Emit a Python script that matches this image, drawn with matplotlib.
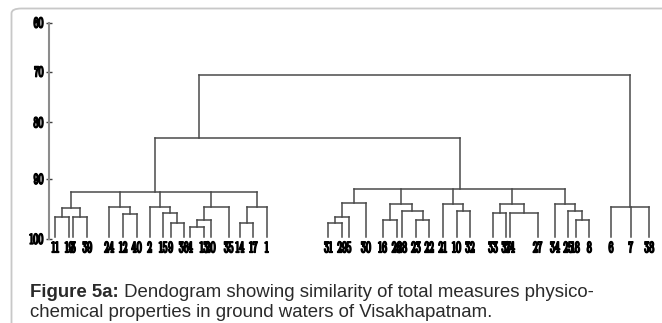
import numpy as np
import matplotlib
matplotlib.use('Agg')
import matplotlib.pyplot as plt
from matplotlib.patches import FancyBboxPatch
import matplotlib.patheffects as pe

# ---------------- data ----------------
leaf_labels = ['11', '19', '3', '39', '24', '12', '40', '2', '15', '9', '36', '4', '13', '20',
               '35', '14', '17', '1',
               '31', '29', '5', '30', '16', '26', '28', '23', '22', '21', '10', '32', '33', '37',
               '24', '27', '34', '25', '18', '8',
               '6', '7', '38']
leaf_pos = [55.3, 69.3, 73.3, 87.3, 109.3, 123.3, 136.7, 149.7, 163.3, 170.7, 183.7, 190.3,
            204.0, 210.7, 228.7, 240.0, 253.3, 266.7,
            328.3, 342.3, 349.0, 366.0, 382.7, 396.7, 402.3, 416.0, 429.3, 442.7, 456.7, 470.0,
            493.0, 506.0, 510.0, 537.5, 555.0, 568.3, 575.5, 589.3,
            611.0, 630.7, 649.3]

merge_names = ['A1', 'A2', 'A3', 'B1', 'B2', 'C1', 'C2', 'C3', 'D1', 'D2', 'D3', 'E1', 'E2', 'L',
               'F1', 'F2', 'F3', 'G1', 'G2', 'G3', 'G4', 'H1', 'H2', 'I1', 'I2', 'I3',
               'J1', 'J2', 'J3', 'M', 'R', 'LM', 'TOP']
merge_children = [[0, 1], [2, 3], ['A1', 'A2'], [5, 6], [4, 'B1'], [9, 10], [8, 'C1'], [7, 'C2'],
                  [11, 12], ['D1', 13], ['D2', 14], [15, 16], ['E1', 17],
                  ['A3', 'B2', 'C3', 'D3', 'E2'],
                  [18, 19], ['F1', 20], ['F2', 21], [22, 23], [25, 26], [24, 'G2'], ['G1', 'G3'],
                  [28, 29], [27, 'H1'], [30, 31], [32, 33], ['I1', 'I2'],
                  [36, 37], [35, 'J1'], [34, 'J2'],
                  ['F3', 'G4', 'H2', 'I3', 'J3'],
                  [38, 39, 40], ['L', 'M'], ['LM', 'R']]
merge_height = [96.3, 96.3, 94.8, 95.8, 94.7, 97.4, 95.7, 94.7, 97.95, 96.9, 94.7, 97.4, 94.7,
                92.1,
                97.4, 96.4, 94.05, 96.8, 96.8, 95.3, 94.2, 95.3, 94.2, 95.7, 95.7, 94.2,
                96.9, 95.3, 94.2, 91.6, 94.6, 82.7, 70.65]
# where the stem of a cluster rises along its bar (0.5 = middle)
stem_frac = {'D3': 0.27, 'L': 0.45, 'LM': 0.145}

y_ticks = [60, 70, 80, 90, 100]
# ---------------- axis warp (the printed axis is not evenly spaced) ----------------
axis_knots = np.array([0.0, 49.0, 99.8, 156.3, 216.3])
tick_arr = np.array(y_ticks, dtype=float)


def _interp(x, xp, fp):
    x = np.asarray(x, dtype=float)
    y = np.interp(x, xp, fp)
    lo = x < xp[0]
    hi = x > xp[-1]
    s0 = (fp[1] - fp[0]) / (xp[1] - xp[0])
    s1 = (fp[-1] - fp[-2]) / (xp[-1] - xp[-2])
    y = np.where(lo, fp[0] + (x - xp[0]) * s0, y)
    y = np.where(hi, fp[-1] + (x - xp[-1]) * s1, y)
    return y


def fwd(v):
    return _interp(v, tick_arr, axis_knots)


def inv(p):
    return _interp(p, axis_knots, tick_arr)


W, H = 662, 323
fig = plt.figure(figsize=(W / 100, H / 100), dpi=100)
fig.patch.set_facecolor('white')

# outer frame
frame = FancyBboxPatch((11.5 / W, -0.2), 1.2, 1.2 - 8.5 / H,
                       boxstyle='round,pad=0,rounding_size=0.015',
                       transform=fig.transFigure, facecolor='none',
                       edgecolor='#c8c8c8', linewidth=1.3, zorder=0)
fig.patches.append(frame)

ax = fig.add_axes([49 / W, 1 - 239 / H, (W - 49) / W, (239 - 22.7) / H])
ax.set_facecolor('none')
ax.set_yscale('function', functions=(fwd, inv))
ax.set_ylim(100, 60)
ax.set_xlim(49, W)

line_col = '#4a4a4a'
lw = 1.1
leaf_base = 99.6

xpos = {i: p for i, p in enumerate(leaf_pos)}
ypos = {i: leaf_base for i in range(len(leaf_pos))}
for name, ch, h in zip(merge_names, merge_children, merge_height):
    xs = [xpos[c] for c in ch]
    x0, x1 = min(xs), max(xs)
    ax.plot([x0, x1], [h, h], color=line_col, lw=lw, solid_capstyle='projecting')
    for c in ch:
        ax.plot([xpos[c], xpos[c]], [ypos[c], h], color=line_col, lw=lw,
                solid_capstyle='projecting')
    xpos[name] = x0 + stem_frac.get(name, 0.5) * (x1 - x0)
    ypos[name] = h

num_font = ['Stint Ultra Condensed', 'Liberation Serif']
bold_fx = [pe.withStroke(linewidth=1.0, foreground='black')]
for i, lab in enumerate(leaf_labels):
    ax.annotate(lab, xy=(leaf_pos[i], 100), xytext=(0, -6.8), textcoords='offset points',
                ha='center', va='center', fontsize=11.5, fontweight='bold', color='black',
                family=num_font, annotation_clip=False, path_effects=bold_fx)

for s in ['top', 'right', 'bottom']:
    ax.spines[s].set_visible(False)
ax.spines['left'].set_color('#8c8c8c')
ax.spines['left'].set_linewidth(1.5)
ax.set_xticks([])
ax.set_yticks(y_ticks)
ax.set_yticks([], minor=True)
ax.set_yticklabels([str(t) for t in y_ticks])
ax.tick_params(axis='y', direction='inout', length=4, width=1, color='#404040', pad=2,
               labelsize=11)
for t in ax.get_yticklabels():
    t.set_fontweight('bold')
    t.set_family(num_font)
    t.set_path_effects(bold_fx)

# caption
base1 = 1 - 296.7 / H
base2 = 1 - 316.7 / H
cap_col = '#2a2a2a'
cap_size = 13.4
t1 = fig.text(30 / W, base1, 'Figure 5a:', fontsize=cap_size, fontweight='bold',
              family='Liberation Sans', color=cap_col, va='baseline')
ax.annotate(' Dendogram showing similarity of total measures physico-',
            xy=(1, base1), xycoords=(t1, 'figure fraction'), va='baseline', ha='left',
            fontsize=cap_size, family='Liberation Sans', color=cap_col, annotation_clip=False)
fig.text(30 / W, base2, 'chemical properties in ground waters of Visakhapatnam.',
         fontsize=cap_size, family='Liberation Sans', color=cap_col, va='baseline')

fig.savefig('out.png', dpi=100)
